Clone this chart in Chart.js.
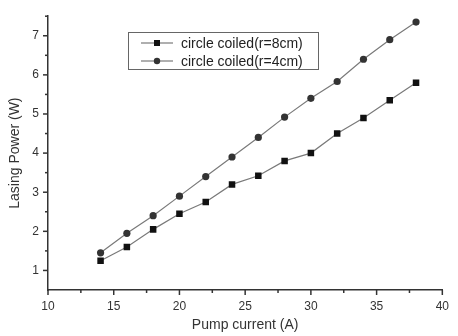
<!DOCTYPE html>
<html>
<head>
<meta charset="utf-8">
<script src="https://cdn.jsdelivr.net/npm/chart.js"></script>
<style>
  html, body { margin: 0; padding: 0; background: #fff; }
  canvas { display: block; }
</style>
</head>
<body>
<canvas id="chart" width="458" height="336"></canvas>
<script>
// pump current (A)
const current = [14, 16, 18, 20, 22, 24, 26, 28, 30, 32, 34, 36, 38];
// lasing power (W)
const power8cm = [1.25, 1.6, 2.05, 2.45, 2.75, 3.2, 3.42, 3.8, 4.0, 4.5, 4.9, 5.35, 5.8];
const power4cm = [1.45, 1.95, 2.4, 2.9, 3.4, 3.9, 4.4, 4.92, 5.4, 5.83, 6.4, 6.9, 7.35];
const seriesNames = ['circle coiled(r=8cm)', 'circle coiled(r=4cm)'];

const xTicks = [10, 15, 20, 25, 30, 35, 40];
const yTicks = [1, 2, 3, 4, 5, 6, 7];

const FONT = 'Liberation Sans, Arial, sans-serif';
const AXIS = '#333';

function toPoints(ys) {
  return current.map((x, i) => ({ x: x, y: ys[i] }));
}

// outward tick marks (major + minor) and the boxed legend inside the plot
const extras = {
  id: 'extras',
  afterDraw(chart) {
    const ctx = chart.ctx;
    const xs = chart.scales.x, ys = chart.scales.y;
    const area = chart.chartArea;
    ctx.save();
    ctx.strokeStyle = AXIS;
    ctx.lineWidth = 1.5;
    for (let v = xs.min; v <= xs.max + 0.001; v += 2.5) {
      const px = xs.getPixelForValue(v);
      const len = xTicks.includes(v) ? 5 : 3;
      ctx.beginPath();
      ctx.moveTo(px, area.bottom);
      ctx.lineTo(px, area.bottom + len);
      ctx.stroke();
    }
    for (let v = 1; v <= ys.max + 0.001; v += 0.5) {
      const py = ys.getPixelForValue(v);
      const len = yTicks.includes(v) ? 5 : 3;
      ctx.beginPath();
      ctx.moveTo(area.left, py);
      ctx.lineTo(area.left - len, py);
      ctx.stroke();
    }

    // legend
    const bx = 128, by = 32, bw = 190, bh = 37;
    ctx.fillStyle = '#fff';
    ctx.fillRect(bx, by, bw, bh);
    ctx.strokeStyle = '#666';
    ctx.lineWidth = 1;
    ctx.strokeRect(bx + 0.5, by + 0.5, bw, bh);
    chart.data.datasets.forEach((ds, i) => {
      const y = 43 + i * 18;
      ctx.strokeStyle = ds.borderColor;
      ctx.lineWidth = 1.2;
      ctx.beginPath();
      ctx.moveTo(141, y);
      ctx.lineTo(173, y);
      ctx.stroke();
      ctx.fillStyle = ds.pointBackgroundColor;
      if (ds.pointStyle === 'rect') {
        ctx.fillRect(157 - 3, y - 3, 6, 6);
      } else {
        ctx.beginPath();
        ctx.arc(157, y, 3.2, 0, Math.PI * 2);
        ctx.fill();
      }
      ctx.fillStyle = '#222';
      ctx.font = '14px ' + FONT;
      ctx.textBaseline = 'middle';
      ctx.textAlign = 'left';
      ctx.fillText(ds.label, 181, y + 1);
    });
    ctx.restore();
  }
};

new Chart(document.getElementById('chart'), {
  type: 'line',
  data: {
    datasets: [
      {
        label: seriesNames[0],
        data: toPoints(power8cm),
        borderColor: '#7a7a7a',
        borderWidth: 1.2,
        pointStyle: 'rect',
        pointRadius: 4.6,
        pointBackgroundColor: '#111',
        pointBorderColor: '#111',
        pointBorderWidth: 0,
        tension: 0
      },
      {
        label: seriesNames[1],
        data: toPoints(power4cm),
        borderColor: '#7a7a7a',
        borderWidth: 1.2,
        pointStyle: 'circle',
        pointRadius: 3.6,
        pointBackgroundColor: '#333',
        pointBorderColor: '#333',
        pointBorderWidth: 0,
        tension: 0
      }
    ]
  },
  options: {
    responsive: false,
    animation: false,
    layout: { padding: { top: 9, right: 7, left: 0, bottom: 0 } },
    plugins: {
      legend: { display: false },
      tooltip: { enabled: false }
    },
    scales: {
      x: {
        type: 'linear',
        min: 10,
        max: 40,
        afterFit(scale) { scale.height = 46; },
        grid: { display: false, drawTicks: false },
        border: { display: true, color: AXIS, width: 1.5 },
        ticks: {
          stepSize: 5,
          padding: 9,
          color: '#333',
          font: { family: FONT, size: 12 },
          maxRotation: 0,
          callback: (v) => xTicks.includes(v) ? String(v) : ''
        },
        title: {
          display: true,
          text: 'Pump current (A)',
          color: '#333',
          font: { family: FONT, size: 14 },
          padding: { top: 0, bottom: 2.5 }
        }
      },
      y: {
        min: 0.5,
        max: 7.5,
        afterFit(scale) { scale.width = 48; },
        grid: { display: false, drawTicks: false },
        border: { display: true, color: AXIS, width: 1.5 },
        ticks: {
          stepSize: 0.5,
          autoSkip: false,
          padding: 9,
          color: '#333',
          font: { family: FONT, size: 12 },
          callback: (v) => yTicks.includes(v) ? String(v) : ''
        },
        title: {
          display: true,
          text: 'Lasing Power (W)',
          color: '#333',
          font: { family: FONT, size: 14 },
          padding: { top: 6.5, bottom: 0 }
        }
      }
    }
  },
  plugins: [extras]
});
</script>
</body>
</html>
